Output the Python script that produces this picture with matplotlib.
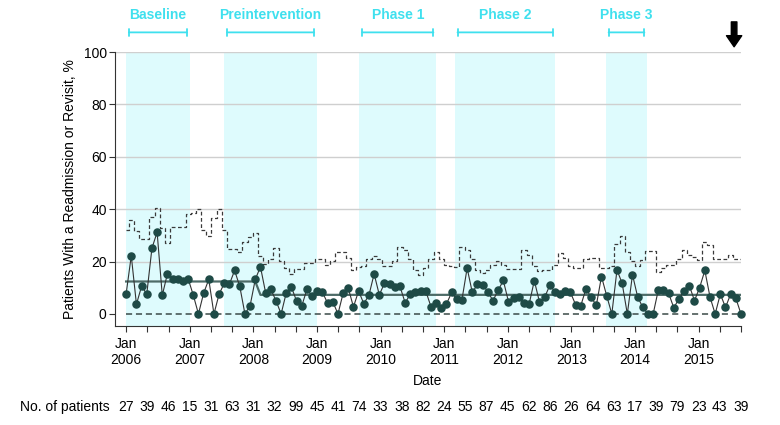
import matplotlib
matplotlib.use('Agg')
import matplotlib.pyplot as plt
import numpy as np

plt.rcParams['font.family'] = ['Liberation Sans Narrow', 'Liberation Sans', 'DejaVu Sans']

# monthly readmission / revisit rate, %
rate = [7.6, 22.2, 3.7, 10.6, 7.6, 25.1, 31.2, 7.1, 15.4, 13.2,
        13.2, 12.7, 13.5, 7.2, 0, 7.9, 13.2, 0, 7.6, 11.7,
        11.4, 16.6, 10.5, 0, 3.2, 13.2, 18.0, 8.1, 9.4, 5.1,
        0, 8.1, 10.2, 4.9, 3.1, 9.4, 6.8, 8.8, 8.3, 4.1,
        4.7, 0, 7.9, 9.8, 2.7, 8.8, 3.9, 7.2, 15.3, 7.3,
        11.7, 11.3, 10.4, 10.5, 4.3, 7.5, 8.3, 8.7, 8.7, 2.8,
        4.1, 2.2, 3.8, 8.2, 5.6, 5.5, 17.5, 8.2, 11.3, 11.2,
        8.5, 5.1, 9.0, 12.8, 4.7, 6.2, 6.5, 4.3, 3.8, 12.7,
        4.6, 6.4, 10.9, 8.5, 7.6, 8.8, 8.2, 3.5, 3.2, 9.6,
        6.4, 3.3, 14.3, 7.0, 0, 16.8, 11.7, 0, 15.0, 6.5,
        2.5, 0, 0, 9.2, 9.2, 7.9, 2.3, 5.9, 8.7, 10.8,
        5.1, 10.1, 16.6, 6.5, 0, 7.6, 2.5, 7.6, 6.0, 0]

# upper control limit, %
ucl = [31.9, 36.0, 31.7, 28.5, 28.5, 37.2, 40.3, 33.0, 27.2, 33.2,
       33.2, 33.2, 38.1, 38.4, 40.0, 32.0, 29.8, 36.6, 40.0, 32.1,
       24.7, 24.7, 23.8, 27.6, 29.5, 30.8, 22.0, 19.2, 20.8, 25.3,
       20.1, 17.6, 15.1, 17.2, 17.2, 19.5, 19.5, 20.8, 20.8, 18.8,
       20.1, 23.8, 23.8, 21.4, 16.9, 17.9, 18.2, 20.8, 22.0, 21.0,
       18.2, 18.2, 20.1, 25.6, 24.4, 20.8, 16.9, 15.0, 17.6, 20.8,
       23.6, 20.8, 18.8, 18.2, 17.9, 25.6, 24.5, 20.8, 16.9, 15.6,
       16.9, 18.8, 20.1, 18.8, 17.2, 17.2, 17.2, 24.4, 22.7, 18.2,
       16.5, 16.9, 16.9, 18.8, 23.1, 21.4, 18.5, 17.6, 17.6, 21.0,
       21.4, 21.4, 17.6, 17.4, 18.5, 26.9, 29.7, 23.8, 20.4, 18.5,
       20.6, 24.0, 24.0, 15.9, 17.6, 18.8, 18.8, 20.8, 24.4, 22.7,
       21.8, 20.5, 27.4, 26.2, 20.8, 20.8, 20.8, 22.7, 21.0, 21.0]

center = [12.4] * 26 + [7.3] * 94
lcl = [0] * 120

patients = [27, 39, 46, 15, 31, 63, 31, 32, 99, 45, 41, 74, 33, 38, 82,
            24, 55, 87, 45, 62, 86, 26, 64, 63, 17, 39, 79, 23, 43, 39]
years = ['2006', '2007', '2008', '2009', '2010', '2011', '2012', '2013', '2014', '2015']

# phases in months since Jan 2006
phases = ['Baseline', 'Preintervention', 'Phase 1', 'Phase 2', 'Phase 3']
phase_start = [0, 18.5, 44.0, 62.0, 90.5]
phase_end = [12.0, 36.0, 58.5, 81.0, 98.3]

cyan = '#3fe0ee'
shade = '#defbfd'
teal = '#1e4a46'

# points spread over the 116-month period
x = np.linspace(0, 116, len(rate))

fig = plt.figure(figsize=(7.8, 4.25), dpi=100)
ax = fig.add_axes([0.1474, 0.2329, 0.8026, 0.6447])
ax.set_xlim(-2.1, 116)
ax.set_ylim(-4.6, 100)

for s, e in zip(phase_start, phase_end):
    ax.axvspan(s, e, color=shade, lw=0, zorder=0)

for gy in [20, 40, 60, 80, 100]:
    ax.axhline(gy, color='#cfcfcf', lw=1, zorder=1)

ax.step(x, ucl, where='mid', color='#3a3a3a', lw=0.9, ls=(0, (3, 2)), zorder=2)
ax.plot(x, lcl, color='#3a4a48', lw=1.1, ls=(0, (4, 2.5)), zorder=2)
ax.plot(x, center, color='#4d6b67', lw=1.6, zorder=2)
ax.plot(x, rate, color='#333333', lw=0.8, zorder=3)
ax.scatter(x, rate, s=26, color=teal, zorder=4, clip_on=False)

ax.spines['top'].set_visible(False)
ax.spines['right'].set_visible(False)
ax.spines['left'].set_color('#333333')
ax.spines['bottom'].set_color('#333333')

ax.set_yticks([0, 20, 40, 60, 80, 100])
ax.tick_params(axis='y', length=4, labelsize=10, color='#333333', pad=2)
ax.set_ylabel('Patients With a Readmission or Revisit, %', fontsize=10)
ax.yaxis.set_label_coords(-0.06, 0.5)

tick_pos = np.arange(0, 117, 4)
ax.set_xticks(tick_pos)
ax.set_xticklabels(['Jan\n' + years[i // 3] if i % 3 == 0 else '' for i in range(len(tick_pos))])
ax.tick_params(axis='x', length=4, labelsize=10, color='#333333', pad=4)
ax.set_xlabel('Date', fontsize=10, labelpad=5)

# phase brackets above the plot
for name, s, e in zip(phases, phase_start, phase_end):
    ax.annotate('', xy=(s, 107.5), xytext=(e, 107.5), xycoords='data',
                arrowprops=dict(arrowstyle='|-|,widthA=0.25,widthB=0.25', color=cyan, lw=1.3),
                annotation_clip=False)
    ax.text((s + e) / 2, 114, name, color=cyan, fontsize=10, fontweight='bold',
            ha='center', va='center', clip_on=False)

# arrow marking the last period
ax.annotate('', xy=(114.7, 102.0), xytext=(114.7, 111.5),
            arrowprops=dict(arrowstyle='simple,head_width=1.1,head_length=0.8,tail_width=0.4',
                            color='black', shrinkA=0, shrinkB=0), annotation_clip=False)

# number of patients row
fig.text(0.026, 1 - 407 / 425, 'No. of patients', fontsize=10, va='center', ha='left')
for p, t in zip(patients, tick_pos):
    ax.annotate(str(p), xy=(t, 0), xycoords=('data', 'figure fraction'),
                xytext=(0, 425 - 407), textcoords='offset pixels',
                ha='center', va='center', fontsize=10)

fig.savefig('out.png', dpi=100)
